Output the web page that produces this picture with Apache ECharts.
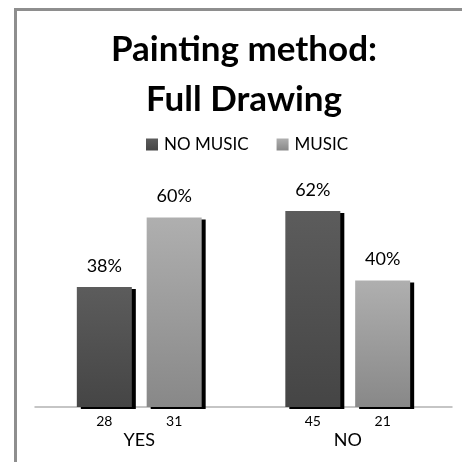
<!DOCTYPE html>
<html>
<head>
<meta charset="utf-8">
<script src="https://cdn.jsdelivr.net/npm/echarts@6/dist/echarts.min.js"></script>
<style>
  html, body { margin: 0; padding: 0; background: #fff; }
  #wrap { position: relative; width: 462px; height: 462px; }
  #vis { width: 462px; height: 462px; }
  #frame {
    position: absolute; left: 14px; top: 8px; right: 0; bottom: 0;
    border-left: 3px solid #8e8e8e; border-top: 3px solid #8e8e8e;
    pointer-events: none;
  }
</style>
</head>
<body>
<div id="wrap">
  <div id="vis"></div>
  <div id="frame"></div>
</div>
<script>
// data
const categories = ["YES", "NO"];
const seriesNames = ["NO MUSIC", "MUSIC"];
const noMusicPct = [38, 62];
const musicPct = [60, 40];
const noMusicCount = [28, 45];
const musicCount = [31, 21];

const FONT = "Lato, 'Open Sans', sans-serif";

function grad(top, bottom) {
  return new echarts.graphic.LinearGradient(0, 0, 0, 1, [
    { offset: 0, color: top },
    { offset: 1, color: bottom }
  ]);
}

const colorDark = grad("#5c5c5c", "#454545");
const colorLight = grad("#afafaf", "#888888");

const chart = echarts.init(document.getElementById("vis"));

function pctSeries(name, data, color) {
  return {
    name: name,
    type: "bar",
    xAxisIndex: 0,
    data: data,
    barWidth: 55,
    barGap: "27%",
    itemStyle: {
      color: color,
      shadowColor: "#000",
      shadowOffsetX: 4,
      shadowOffsetY: 2,
      shadowBlur: 0
    },
    label: {
      show: true,
      position: "top",
      distance: 12,
      formatter: "{c}%",
      fontFamily: FONT,
      fontSize: 18,
      color: "#000"
    }
  };
}

// invisible overlay bars on a second axis, only to carry the counts below each bar
function countSeries(pct, counts) {
  return {
    type: "bar",
    xAxisIndex: 1,
    silent: true,
    data: pct.map((v, i) => ({ value: v, count: counts[i] })),
    barWidth: 55,
    barGap: "27%",
    itemStyle: { color: "rgba(0,0,0,0)" },
    label: {
      show: true,
      position: "bottom",
      distance: 7,
      formatter: p => String(p.data.count),
      fontFamily: FONT,
      fontSize: 14,
      color: "#000"
    },
    tooltip: { show: false }
  };
}

chart.setOption({
  animation: false,
  title: {
    text: "Painting method:\nFull Drawing",
    left: 244,
    textAlign: "center",
    top: 25,
    padding: 0,
    textStyle: {
      fontFamily: FONT,
      fontWeight: "bold",
      fontSize: 35,
      lineHeight: 50,
      color: "#000"
    }
  },
  legend: {
    data: [
      { name: "NO MUSIC", itemStyle: { color: colorDark, shadowBlur: 0, shadowOffsetX: 0, shadowOffsetY: 0 } },
      { name: "MUSIC", itemStyle: { color: colorLight, shadowBlur: 0, shadowOffsetX: 0, shadowOffsetY: 0 } }
    ],
    left: 146,
    top: 136,
    padding: 0,
    icon: "rect",
    itemWidth: 12,
    itemHeight: 12,
    itemGap: 28,
    textStyle: { fontFamily: FONT, fontSize: 17, color: "#000", padding: [0, 0, 0, 1] }
  },
  grid: { left: 35, right: 10, top: 91, bottom: 55 },
  xAxis: [
    {
      type: "category",
      data: categories,
      axisLine: { lineStyle: { color: "#b3b3b3", width: 1.5 } },
      axisTick: { show: false },
      axisLabel: { margin: 24, fontFamily: FONT, fontSize: 18, color: "#000" }
    },
    {
      type: "category",
      data: categories,
      show: false
    }
  ],
  yAxis: { type: "value", min: 0, max: 100, show: false, splitLine: { show: false } },
  series: [
    pctSeries(seriesNames[0], noMusicPct, colorDark),
    pctSeries(seriesNames[1], musicPct, colorLight),
    countSeries(noMusicPct, noMusicCount),
    countSeries(musicPct, musicCount)
  ]
});
</script>
</body>
</html>
